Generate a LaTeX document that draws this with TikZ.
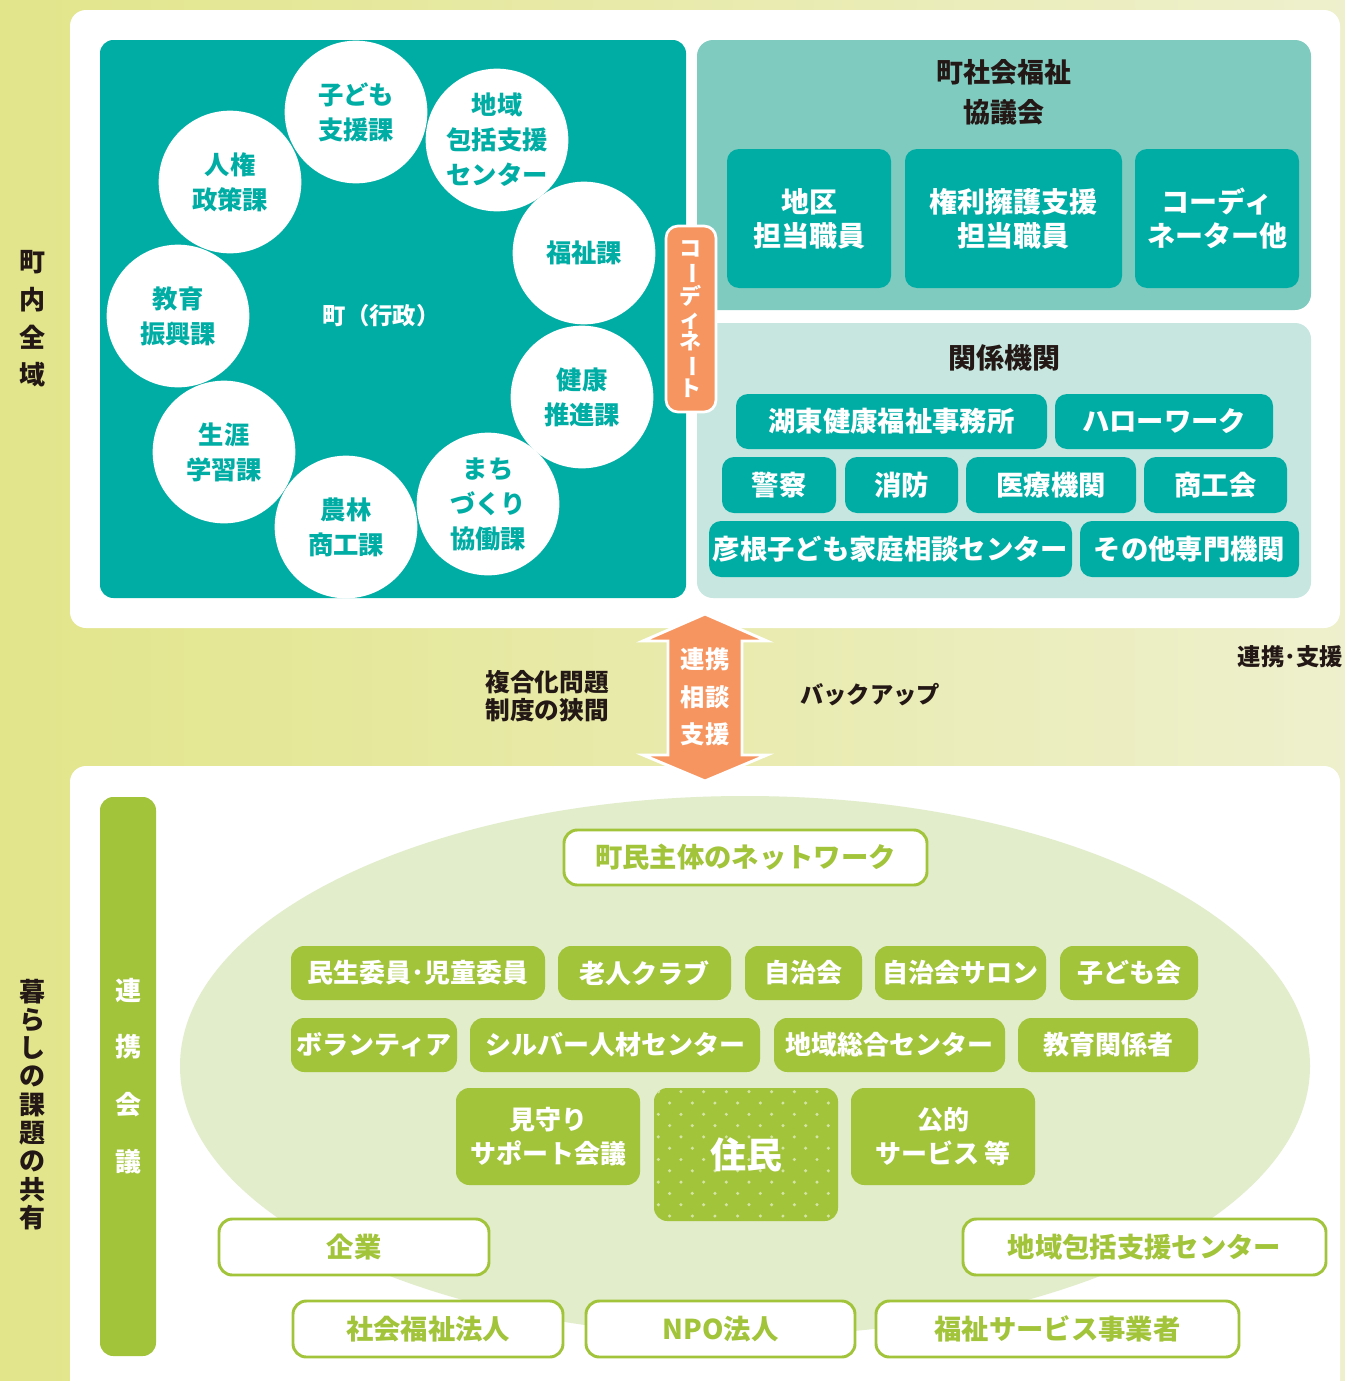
\documentclass[tikz,border=0pt]{standalone}
\usepackage{fontspec}
\usepackage{graphicx}
\setmainfont{Noto Sans CJK JP}
\definecolor{teal0}{RGB}{0,173,165}
\definecolor{tealL}{RGB}{128,203,192}
\definecolor{tealLL}{RGB}{198,230,223}
\definecolor{orng}{RGB}{247,149,96}
\definecolor{grn}{RGB}{162,196,58}
\definecolor{grnL}{RGB}{226,237,203}
\definecolor{bgA}{RGB}{226,229,138}
\definecolor{bgB}{RGB}{238,240,205}
\definecolor{dotc}{RGB}{212,228,165}
\definecolor{ink}{RGB}{35,24,21}
\newcommand\bx[7]{\node[#1, minimum width={(#5-#3)*0.75pt}, minimum height={(#6-#4)*0.75pt}] (#2) at ({(#3+#5)/2},{(#4+#6)/2}) {#7};}
\newcommand\vbar{\rotatebox[origin=c]{-90}{ー}}
\tikzset{
  circ/.style={circle, fill=white, minimum size=107pt, inner sep=0pt, text=teal0, align=center, font=\fontsize{19pt}{26.25pt}\selectfont\bfseries},
  tbox/.style={rectangle, rounded corners=9pt, fill=teal0, text=white, inner sep=0pt, align=center, font=\fontsize{21pt}{25.5pt}\selectfont\bfseries},
  tboxs/.style={tbox, font=\fontsize{20.5pt}{24pt}\selectfont\bfseries},
  gbox/.style={rectangle, rounded corners=10pt, fill=grn, text=white, inner sep=0pt, align=center, font=\fontsize{19.5pt}{25.5pt}\selectfont\bfseries},
  obox/.style={rectangle, rounded corners=10pt, fill=white, draw=grn, line width=2.2pt, text=grn, inner sep=0pt, align=center, font=\fontsize{20.5pt}{24pt}\selectfont\bfseries},
  heading/.style={text=ink, align=center, inner sep=0pt, font=\fontsize{20.25pt}{30pt}\selectfont\bfseries},
  vchar/.style={inner sep=0pt, font=\fontsize{19.5pt}{20pt}\selectfont\bfseries},
  midtxt/.style={text=ink, align=center, inner sep=0pt, font=\fontsize{18.5pt}{21pt}\selectfont\bfseries}
}
\begin{document}
\begin{tikzpicture}[x=0.75pt,y=-0.75pt]
\useasboundingbox (0,0) rectangle (1345,1381);
\shade[left color=bgA, right color=bgB] (0,0) rectangle (1345,1381);
% ---------- upper panel ----------
\fill[white, rounded corners=12pt] (70,10) rectangle (1340,628);
\fill[teal0, rounded corners=10pt] (100,40) rectangle (686,598);
\fill[tealL, rounded corners=12pt] (697,40) rectangle (1311,310);
\fill[tealLL, rounded corners=12pt] (697,323) rectangle (1311,598);
% circles
\node[circ] (jinken) at (230,182) {人権\\政策課};
\node[circ] (kyoiku) at (178,316) {教育\\振興課};
\node[circ] (shogai) at (224,452) {生涯\\学習課};
\node[circ] (norin) at (346,527) {農林\\商工課};
\node[circ] (machi) at (488,504) {まち\\づくり\\協働課};
\node[circ] (kenko) at (582,397) {健康\\推進課};
\node[circ] (fukushi) at (584,253) {福祉課};
\node[circ] (chiiki) at (497,140) {地域\\包括支援\\センター};
\node[circ] (kodomo) at (356,112) {子ども\\支援課};
\node[text=white, inner sep=0pt, font=\fontsize{17.5pt}{20pt}\selectfont\bfseries] (gyosei) at (381,316) {町（行政）};
% coordinate box
\bx{rectangle, rounded corners=9pt, fill=orng, draw=white, line width=2pt, inner sep=0pt}{coordbox}{666}{226}{716}{412}{}
\node[inner sep=0pt, text=white, align=center, font=\fontsize{16.5pt}{16.75pt}\selectfont\bfseries] (coordtxt) at (690,319) {コ\\\vbar\\デ\\ィ\\ネ\\\vbar\\ト};
% shakyo
\node[heading] (shakyo) at (1004,92) {町社会福祉\\協議会};
\bx{tbox}{chiku}{727}{149}{891}{288}{地区\\担当職員}
\bx{tbox}{kenri}{905}{149}{1122}{288}{権利擁護支援\\担当職員}
\bx{tbox}{coordh}{1135}{149}{1299}{288}{コーディ\\ネーター他}
% kankei
\node[heading, font=\fontsize{21pt}{24pt}\selectfont\bfseries] (kankei) at (1004,358) {関係機関};
\bx{tboxs}{kotou}{736}{394}{1047}{449}{湖東健康福祉事務所}
\bx{tboxs}{hello}{1055}{394}{1273}{449}{ハローワーク}
\bx{tboxs}{keisatsu}{722}{457}{836}{513}{警察}
\bx{tboxs}{shobo}{845}{457}{958}{513}{消防}
\bx{tboxs}{iryo}{966}{457}{1136}{513}{医療機関}
\bx{tboxs}{shoko}{1144}{457}{1287}{513}{商工会}
\bx{tboxs}{hikone}{709}{521}{1072}{577}{彦根子ども家庭相談センター}
\bx{tboxs}{sonota}{1080}{521}{1299}{577}{その他専門機関}
% ---------- lower panel ----------
\fill[white, rounded corners=12pt] (70,766) rectangle (1340,1420);
\fill[grnL] (745,1066) ellipse [x radius=423.75pt, y radius=202.5pt];
% ---------- middle ----------
\fill[orng, draw=white, line width=2.2pt, line join=miter] (705,614) -- (767,641) -- (742,641) -- (742,755) -- (767,755) -- (705,781) -- (643,755) -- (668,755) -- (668,641) -- (643,641) -- cycle;
\node[text=white, align=center, inner sep=0pt, font=\fontsize{18.25pt}{28pt}\selectfont\bfseries] (arrowtxt) at (705,697) {連携\\相談\\支援};
\node[midtxt] (fukugo) at (547,696) {複合化問題\\制度の狭間};
\node[midtxt, font=\fontsize{17.5pt}{20pt}\selectfont\bfseries] (backup) at (870,695) {バックアップ};
\node[midtxt, anchor=east, font=\fontsize{17.5pt}{20pt}\selectfont\bfseries] (renkeishien) at (1343,657) {連携･支援};
% ---------- lower content ----------
\bx{gbox}{kaigibar}{100}{797}{156}{1356}{}
\foreach \c/\yy [count=\i] in {連/990,携/1047,会/1105,議/1162}
  \node[vchar, text=white] (kaigi\i) at (128,\yy) {\c};
\bx{obox}{network}{564}{830}{927}{885}{町民主体のネットワーク}
\bx{gbox}{minsei}{291}{946}{545}{1000}{民生委員･児童委員}
\bx{gbox}{rojin}{558}{946}{731}{1000}{老人クラブ}
\bx{gbox}{jichi}{745}{946}{862}{1000}{自治会}
\bx{gbox}{salon}{875}{946}{1046}{1000}{自治会サロン}
\bx{gbox}{kodomokai}{1060}{946}{1198}{1000}{子ども会}
\bx{gbox}{volunteer}{291}{1018}{457}{1072}{ボランティア}
\bx{gbox}{silver}{470}{1018}{760}{1072}{シルバー人材センター}
\bx{gbox}{sogo}{774}{1018}{1005}{1072}{地域総合センター}
\bx{gbox}{kyoikukankei}{1018}{1018}{1198}{1072}{教育関係者}
\bx{gbox}{mimamori}{456}{1088}{640}{1185}{見守り\\サポート会議}
\bx{gbox}{koteki}{851}{1088}{1035}{1185}{公的\\サービス 等}
\bx{gbox}{juminbox}{654}{1088}{838}{1221}{}
\begin{scope}
  \clip[rounded corners=10pt] (654,1088) rectangle (838,1221);
  \foreach \r in {0,...,11}
    \foreach \k in {0,...,8}
      \fill[dotc] ({658.3+11.33*mod(\r,2)+22.67*\k},{1091.7+11.3*\r}) circle[radius=1.3pt];
\end{scope}
\node[text=white, inner sep=0pt, font=\fontsize{27pt}{30pt}\selectfont\bfseries] (jumin) at (juminbox.center) {住民};
\bx{obox}{kigyo}{219}{1219}{489}{1275}{企業}
\bx{obox}{houkatsu}{963}{1219}{1326}{1275}{地域包括支援センター}
\bx{obox}{shafuku}{293}{1301}{563}{1357}{社会福祉法人}
\bx{obox}{npo}{586}{1301}{855}{1357}{NPO法人}
\bx{obox}{jigyosha}{876}{1301}{1239}{1357}{福祉サービス事業者}
% ---------- left labels ----------
\foreach \c/\yy [count=\i] in {町/262,内/300,全/337,域/375}
  \node[vchar, text=ink] (chonai\i) at (32,\yy) {\c};
\foreach \c [count=\i] in {暮,ら,し,の,課,題,の,共,有}
  \node[vchar, text=ink] (kurashi\i) at (32,{992+28.25*(\i-1)}) {\c};
\end{tikzpicture}
\end{document}
